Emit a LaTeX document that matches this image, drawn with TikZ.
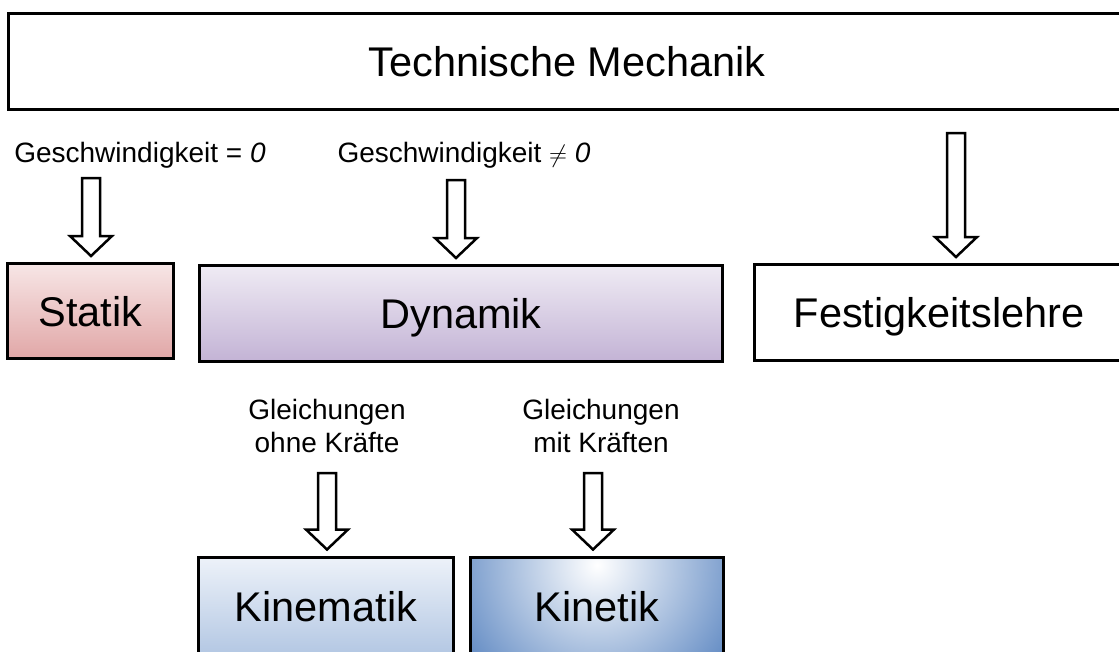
\documentclass[tikz,border=0pt]{standalone}
\usepackage{fontspec}
\setmainfont{Liberation Sans}
\usetikzlibrary{calc}

\definecolor{statikhell}{HTML}{F7E6E6}
\definecolor{statikrot}{HTML}{E1A7A7}
\definecolor{dynhell}{HTML}{EFEBF4}
\definecolor{dynlila}{HTML}{C3B3D5}
\definecolor{kinemhell}{HTML}{EDF2F9}
\definecolor{kinemblau}{HTML}{B3C7E3}
\definecolor{kinetblau}{HTML}{5682BF}

% hohler Blockpfeil von #1 bis kurz vor Knoten #2
\newcommand{\hohlpfeil}[2]{%
  \coordinate (spitze) at ($(#1 |- #2.north)+(0,-7.5)$);
  \filldraw[pfeil] ($(#1)+(-9,0)$) -- ($(spitze)+(-9,-20)$) -- ($(spitze)+(-21,-20)$)
    -- (spitze) -- ($(spitze)+(21,-20)$) -- ($(spitze)+(9,-20)$) -- ($(#1)+(9,0)$) -- cycle;}

\begin{document}
\begin{tikzpicture}[x=1pt,y=-1pt,
  box/.style={draw,line width=3pt,inner sep=0pt,outer sep=0pt,
    text height=30pt,text depth=0pt,font=\fontsize{41.5}{48}\selectfont},
  marke/.style={font=\fontsize{28}{33}\selectfont,inner sep=0pt},
  pfeil/.style={draw=black,fill=white,line width=2.5pt,line join=miter}]
  \clip (0,0) rectangle (1119,651);
  \fill[white] (0,0) rectangle (1119,651);
  % Kaesten
  \node[box,minimum width=1117pt,minimum height=96pt] (tm) at (567,61.5) {Technische Mechanik};
  \node[box,top color=statikhell,bottom color=statikrot,minimum width=166pt,minimum height=95pt] (statik) at (90.5,311) {Statik};
  \node[box,top color=dynhell,bottom color=dynlila,minimum width=523pt,minimum height=96pt] (dynamik) at (461,313.5) {Dynamik};
  \node[box,minimum width=369pt,minimum height=96pt] (festigkeit) at (939,312.5) {Festigkeitslehre};
  \node[box,top color=kinemhell,bottom color=kinemblau,minimum width=255pt,minimum height=98pt] (kinematik) at (326,606) {Kinematik};
  \node[box,minimum width=253pt,minimum height=98pt,
    path picture={\shade[inner color=white,outer color=kinetblau]
      ($(path picture bounding box.north)+(0,8)$) circle (170pt);}] (kinetik) at (597,606) {Kinetik};
  % Beschriftungen
  \node[marke,anchor=base] (v0) at (140,162) {Geschwindigkeit = \textit{0}};
  \node[marke,anchor=base] (vn0) at (464,162) {Geschwindigkeit $\neq$ \textit{0}};
  \node[marke,align=center] (ohne) at (327,426) {Gleichungen\\ohne Kräfte};
  \node[marke,align=center] (mit) at (601,426) {Gleichungen\\mit Kräften};
  % Pfeile
  \coordinate (p1) at (91,178);
  \coordinate (p2) at (456,180);
  \coordinate (p3) at (956,133);
  \coordinate (p4) at (327,473);
  \coordinate (p5) at (593,473);
  \foreach \s/\z in {p1/statik,p2/dynamik,p3/festigkeit,p4/kinematik,p5/kinetik}
    \hohlpfeil{\s}{\z};
\end{tikzpicture}
\end{document}
